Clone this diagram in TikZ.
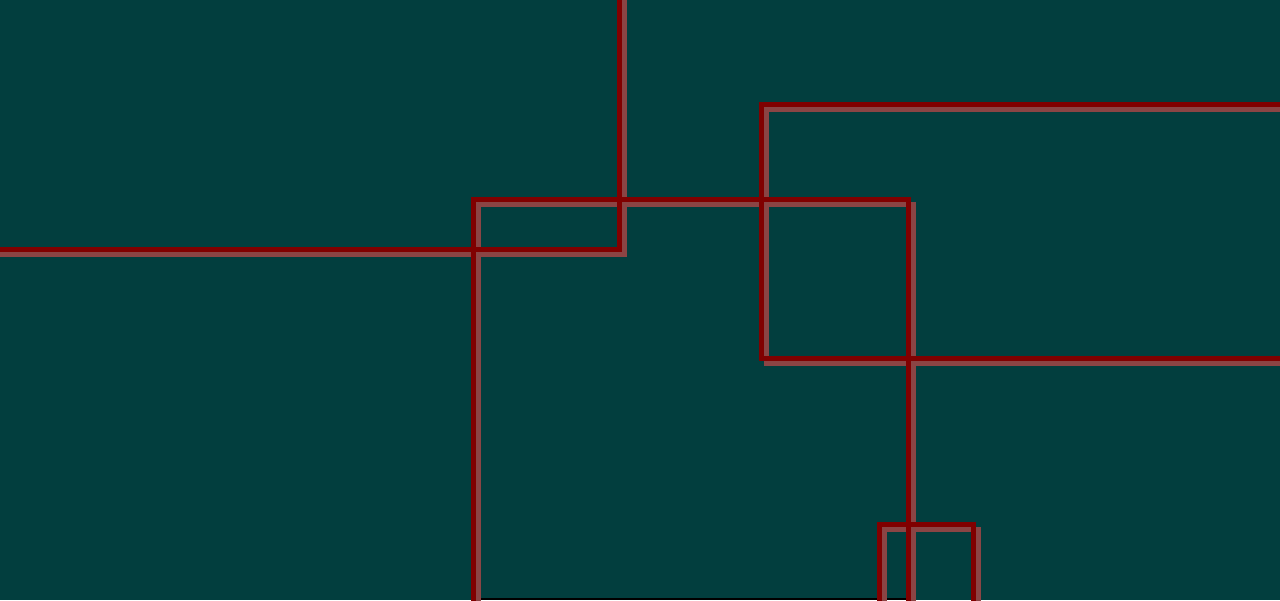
\documentclass[tikz,border=0pt]{standalone}
\definecolor{bgteal}{RGB}{2,62,62}
\definecolor{linered}{RGB}{128,0,0}
\definecolor{shadowred}{RGB}{139,68,68}
\tikzset{
  redline/.style={draw=linered, line width=5pt, line join=miter},
  shadowline/.style={draw=shadowred, line width=5pt, line join=miter, shift={(5,5)}},
}
\begin{document}
\begin{tikzpicture}[x={(1pt,0)}, y={(0,-1pt)}]
\useasboundingbox (0,0) rectangle (1280,600);
\fill[bgteal] (0,0) rectangle (1280,600);
\begin{scope}
\clip (0,0) rectangle (1280,600);
% black edge at bottom
\fill[black] (481,597.5) rectangle (906,600);
% shadows
\draw[shadowline] (1300,104.5) -- (761.8,104.5) -- (761.8,358.5) -- (1300,358.5);
\draw[shadowline] (-20,249.5) -- (619.5,249.5) -- (619.5,-20);
\draw[shadowline] (879.5,620) -- (879.5,524.5) -- (973.5,524.5) -- (973.5,620);
\draw[shadowline] (473.5,620) -- (473.5,199.5) -- (908.5,199.5) -- (908.5,620);
% red lines: horizontals first, then verticals
\draw[redline] (1300,104.5) -- (761.8,104.5);
\draw[redline] (761.8,358.5) -- (1300,358.5);
\draw[redline] (-20,249.5) -- (619.5,249.5);
\draw[redline] (879.5,524.5) -- (973.5,524.5);
\draw[redline] (473.5,199.5) -- (908.5,199.5);
\draw[redline] (1300,104.5) -- (761.8,104.5) -- (761.8,358.5) -- (1300,358.5);
\draw[redline] (-20,249.5) -- (619.5,249.5) -- (619.5,-20);
\draw[redline] (879.5,620) -- (879.5,524.5) -- (973.5,524.5) -- (973.5,620);
\draw[redline] (473.5,620) -- (473.5,199.5) -- (908.5,199.5) -- (908.5,620);
\end{scope}
\end{tikzpicture}
\end{document}
